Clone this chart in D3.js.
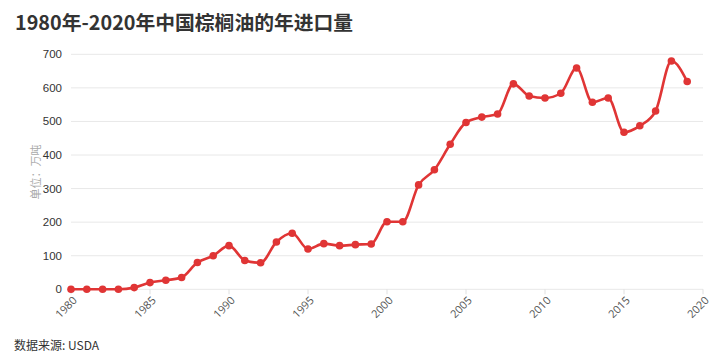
<!DOCTYPE html>
<html><head><meta charset="utf-8">
<script src="https://cdn.jsdelivr.net/npm/d3@7"></script>
<style>
html,body{margin:0;padding:0;background:#fff;}
svg{display:block;font-family:"Noto Sans CJK SC","Noto Sans",sans-serif;}
</style></head>
<body><svg id="c" width="724" height="361"></svg>
<script>
const years = d3.range(1980, 2020);
const imports = [0,0,0,0,5,20,27,35,80,100,130,86,79,141,167,120,136,130,133,135,201,201,311,356,432,497,513,522,612,576,570,584,659,557,570,468,487,531,680,619];
const xTicks = [1980,1985,1990,1995,2000,2005,2010,2015,2020];
const yTicks = [0,100,200,300,400,500,600,700];
const title = "1980年-2020年中国棕榈油的年进口量";
const yLabel = "单位：万吨";
const source = "数据来源: USDA";

const svg = d3.select("#c");
const x = d3.scaleLinear().domain([1980,2020]).range([71,703]);
const y = d3.scaleLinear().domain([0,700]).range([289.3,54.3]);

// grid
svg.append("g").selectAll("line").data(yTicks).join("line")
  .attr("x1",71).attr("x2",703).attr("y1",d=>y(d)).attr("y2",d=>y(d))
  .attr("stroke","#e8e8e8").attr("stroke-width",1);

// y axis labels
svg.append("g").selectAll("text").data(yTicks).join("text")
  .attr("x",62).attr("y",d=>y(d)).attr("dy","0.35em")
  .attr("text-anchor","end").attr("font-size",11.5).attr("fill","#333")
  .attr("font-family","Liberation Sans, Arial, sans-serif")
  .text(d=>d);

// x axis
const xa = svg.append("g").attr("transform","translate(0,289.3)");
xa.selectAll("line").data(xTicks).join("line")
  .attr("x1",d=>x(d)).attr("x2",d=>x(d)).attr("y1",0).attr("y2",5)
  .attr("stroke","#e0e0e0");
xa.selectAll("text").data(xTicks).join("text")
  .attr("transform",d=>`translate(${x(d)+4},${9}) rotate(-45)`)
  .attr("text-anchor","end").attr("dy","0.35em").attr("font-size",11).attr("fill","#555")
  .attr("font-family","Open Sans, sans-serif")
  .text(d=>d);

// line
const data = years.map((yr,i)=>({yr, v:imports[i]}));
svg.append("path").datum(data)
  .attr("d", d3.line().x(d=>x(d.yr)).y(d=>y(d.v)).curve(d3.curveMonotoneX))
  .attr("fill","none").attr("stroke","#e03535").attr("stroke-width",2.6);
svg.append("g").selectAll("circle").data(data).join("circle")
  .attr("cx",d=>x(d.yr)).attr("cy",d=>y(d.v)).attr("r",3.8).attr("fill","#e03535");

// title
svg.append("text").attr("x",15).attr("y",30).attr("font-size",19.8).attr("font-weight","bold")
  .attr("fill","#333").text(title);

// y label
svg.append("text").attr("transform","translate(40,172) rotate(-90)")
  .attr("text-anchor","middle").attr("font-size",11).attr("fill","#aaa").text(yLabel);

// source
svg.append("text").attr("x",14).attr("y",350).attr("font-size",12).attr("fill","#333").text(source);
</script></body></html>
